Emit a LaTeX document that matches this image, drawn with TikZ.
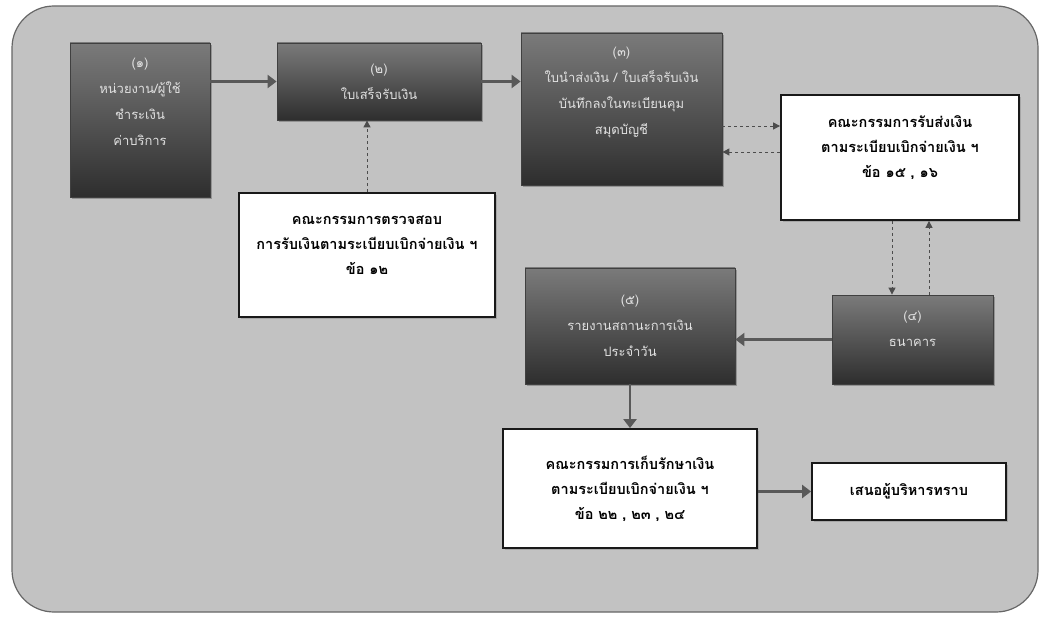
\documentclass[tikz,border=0pt]{standalone}
\usepackage{fontspec}
\newfontfamily\thai[Script=Thai]{Loma}
\usetikzlibrary{arrows.meta,shadows,calc}
\begin{document}
\begin{tikzpicture}[x=1pt,y=-1pt,
  darkbox/.style={draw=black!75, line width=0.8pt, top color=black!52, bottom color=black!82,
    text=black!12, align=center, inner sep=2pt, font=\thai\fontsize{13}{26}\selectfont,
    drop shadow={shadow xshift=2pt, shadow yshift=-2pt, fill=black!60}},
  whitebox/.style={draw=black!90, line width=1.8pt, fill=white, text=black, align=center,
    inner sep=2pt, font=\thai\bfseries\fontsize{14.5}{25}\selectfont,
    drop shadow={shadow xshift=2pt, shadow yshift=-2pt, fill=black!45}},
  solidarrow/.style={draw=black!65, line width=3.5pt, -{Triangle[length=9pt,width=13pt]}},
  dasharrow/.style={draw=black!70, line width=0.9pt, dashed, -{Triangle[length=7pt,width=7pt]}}
]
\useasboundingbox (0,0) rectangle (1048,617);
\fill[white] (0,0) rectangle (1048,617);
\path[draw=black!60, line width=1.2pt, fill=black!24, rounded corners=42pt] (12,6) rectangle (1038,612);

\node[darkbox, minimum width=140pt, minimum height=154pt] (b1) at (140,120)
  {(๑)\\หน่วยงาน/ผู้ใช้\\ชำระเงิน\\ค่าบริการ\\[10pt]};
\node[darkbox, minimum width=204pt, minimum height=77pt] (b2) at (379,81.5)
  {(๒)\\ใบเสร็จรับเงิน};
\node[darkbox, minimum width=201pt, minimum height=152pt] (b3) at (621.5,109)
  {(๓)\\ใบนำส่งเงิน / ใบเสร็จรับเงิน\\บันทึกลงในทะเบียนคุม\\สมุดบัญชี\\[10pt]};
\node[whitebox, minimum width=256pt, minimum height=124pt] (A) at (367,255)
  {คณะกรรมการตรวจสอบ\\การรับเงินตามระเบียบเบิกจ่ายเงิน ฯ\\ข้อ ๑๒\\[-6pt]};
\node[whitebox, minimum width=238pt, minimum height=125pt] (B) at (900,157.5)
  {คณะกรรมการรับส่งเงิน\\ตามระเบียบเบิกจ่ายเงิน ฯ\\ข้อ ๑๕ , ๑๖\\[-4pt]};
\node[darkbox, minimum width=210pt, minimum height=116pt] (b4) at (630,326)
  {(๕)\\รายงานสถานะการเงิน\\ประจำวัน};
\node[darkbox, minimum width=161pt, minimum height=89pt] (b5) at (912.5,339.5)
  {(๔)\\ธนาคาร\\[-4pt]};
\node[whitebox, minimum width=254pt, minimum height=119pt] (C) at (630,488.5)
  {คณะกรรมการเก็บรักษาเงิน\\ตามระเบียบเบิกจ่ายเงิน ฯ\\ข้อ ๒๒ , ๒๓ , ๒๔};
\node[whitebox, minimum width=194pt, minimum height=57pt] (D) at (909,491.5)
  {เสนอผู้บริหารทราบ};

\coordinate (r1) at ([yshift=-17pt]b3.east);
\coordinate (r2) at ([yshift=-43pt]b3.east);
\coordinate (d1) at ([xshift=-8pt]B.south);
\coordinate (d2) at ([xshift=29pt]B.south);

\draw[solidarrow] (b1.east |- b2.west) -- (b2.west);
\draw[solidarrow] (b2.east) -- (b3.west |- b2.east);
\draw[dasharrow] (A.north) -- (A.north |- b2.south);
\draw[dasharrow] (r1) -- (r1 -| B.west);
\draw[dasharrow] (r2 -| B.west) -- (r2);
\draw[dasharrow] (d1) -- (d1 |- b5.north);
\draw[dasharrow] (d2 |- b5.north) -- (d2);
\draw[solidarrow] (b5.west) -- (b5.west -| b4.east);
\draw[solidarrow, line width=2.5pt] (b4.south) -- (C.north);
\draw[solidarrow, line width=2.5pt] (C.east |- D.west) -- (D.west);
\end{tikzpicture}
\end{document}
